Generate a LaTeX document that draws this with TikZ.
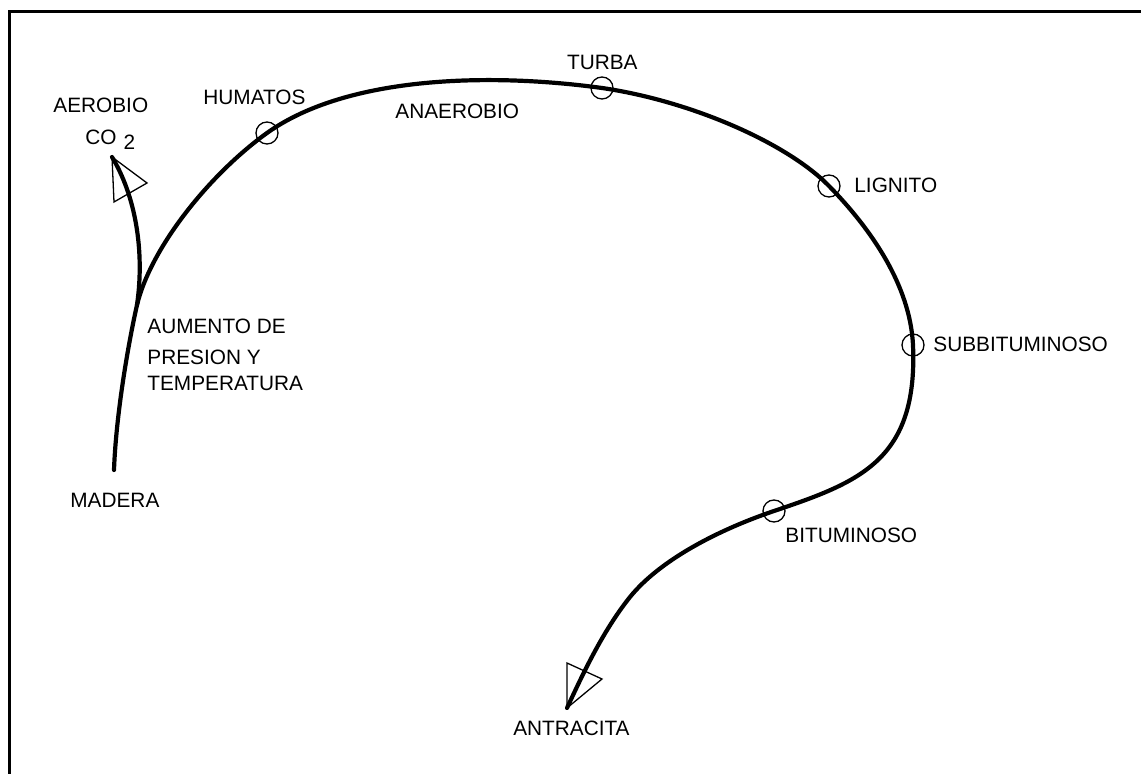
\documentclass[tikz,border=0pt]{standalone}
\usepackage{fontspec}
\setmainfont{Liberation Sans}
\tikzset{
  lbl/.style={font=\fontsize{10.4}{12}\selectfont, inner sep=0pt},
  stage/.style={circle, draw, line width=0.65pt, minimum size=11pt, inner sep=0pt},
  flow/.style={line width=2.1pt, line cap=round, line join=round},
  tiptri/.style={line width=0.65pt, line join=miter},
  frame/.style={line width=1.75pt}
}
\begin{document}
\begin{tikzpicture}[x=0.5pt, y=-0.5pt]
  \useasboundingbox (0,0) rectangle (1141,774);
  % sheet frame
  \draw[frame] (9.5,774) -- (9.5,11.5) -- (1141,11.5);

  % stages along the coalification path
  \node[stage] (hum) at (267,133) {};
  \node[stage] (tur) at (602,88) {};
  \node[stage] (lig) at (829,186) {};
  \node[stage] (sub) at (913,345) {};
  \node[stage] (bit) at (774,511) {};

  \coordinate (mad) at (114,470);
  \coordinate (ant) at (567,708);
  \coordinate (fork) at (137,305);
  \coordinate (bend) at (630,597);
  \coordinate (co2tip) at (112,157);

  % main path: wood -> anthracite
  \draw[flow] (mad)
    .. controls (116,415) and (128,345) .. (fork)
    .. controls (151,247) and (210,174) .. (hum.center)
    .. controls (348,75) and (493,73) .. (tur.center)
    .. controls (691,101) and (787,143) .. (lig.center)
    .. controls (871,229) and (910,285) .. (sub.center)
    .. controls (918,460) and (860,482) .. (bit.center)
    .. controls (718,530) and (660,560) .. (bend)
    .. controls (602,632) and (582,676) .. (ant);

  % aerobic branch towards CO2
  \draw[flow] (fork) .. controls (145,250) and (135,195) .. (co2tip);

  % open arrow heads
  \draw[tiptri] (co2tip) -- (114,202) -- (147,183) -- cycle;
  \draw[tiptri] (ant) -- (567,663) -- (602,679) -- cycle;

  % labels
  \node[lbl, anchor=base west] (laer) at (53,113) {AEROBIO};
  \node[lbl, anchor=base west] (lco) at (85,145) {CO\hspace{3.5pt}\raisebox{-2.5pt}{2}};
  \node[lbl, anchor=base west] (lhum) at (203,105) {HUMATOS};
  \node[lbl, anchor=base west] (lana) at (395,119) {ANAEROBIO};
  \node[lbl, anchor=base east] (ltur) at (638,70) {TURBA};
  \node[lbl, anchor=base west] (llig) at (854,193) {LIGNITO};
  \node[lbl, anchor=base west] (lsub) at (933,352) {SUBBITUMINOSO};
  \node[lbl, anchor=base west] (lbit) at (785,543) {BITUMINOSO};
  \node[lbl, anchor=base east] (lant) at (630,736) {ANTRACITA};
  \node[lbl, anchor=base west] (lmad) at (70,508) {MADERA};
  \node[lbl, anchor=base west] (lau1) at (147,334) {AUMENTO DE};
  \node[lbl, anchor=base west] (lau2) at (147,365) {PRESION Y};
  \node[lbl, anchor=base west] (lau3) at (147,391) {TEMPERATURA};
\end{tikzpicture}
\end{document}
